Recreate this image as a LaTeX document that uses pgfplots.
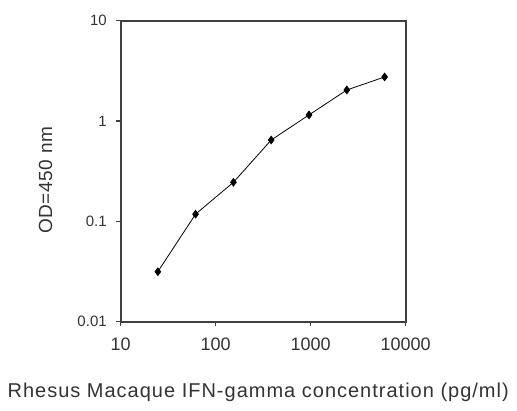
\documentclass[border=0pt]{standalone}
\usepackage{fontspec}
\setmainfont{Liberation Sans}
\usepackage{pgfplots}
\pgfplotsset{compat=1.18}

\begin{document}
\begin{tikzpicture}
    \path[use as bounding box] (0,0) rectangle (517bp,411bp);
    \begin{axis}[
            name=ax,
            at={(120.7bp,89.3bp)},
            anchor=south west,
            scale only axis,
            width=285bp, height=301bp,
            xmode=log, ymode=log,
            xmin=10, xmax=10000,
            ymin=0.01, ymax=10,
            xtick={10,100,1000,10000},
            xticklabels={10,100,1000,10000},
            ytick={0.01,0.1,1,10},
            yticklabels={0.01,0.1,1,10},
            minor tick num=0,
            minor tick style={draw=none},
            tick align=outside,
            xtick pos=bottom, ytick pos=left,
            major tick length=4.5bp,
            axis line style={line width=2bp, draw=black!75},
            tick style={line width=1.2bp, draw=black!75},
            /pgf/number format/assume math mode=true,
            xticklabel style={font=\fontsize{18bp}{20bp}\selectfont, text=black!80, yshift=-8bp},
            yticklabel style={font=\fontsize{15bp}{17bp}\selectfont, text=black!80, xshift=-6bp},
            xlabel={Rhesus Macaque IFN-gamma concentration (pg/ml)},
            ylabel={OD=450 nm},
            xlabel style={font=\fontsize{20bp}{22bp}\selectfont\addfontfeatures{LetterSpace=5}, text=black!80,
                at={(axis description cs:0.5,0)}, anchor=center, yshift=-71bp, xshift=-5bp},
            ylabel style={font=\fontsize{19bp}{21bp}\selectfont\addfontfeatures{LetterSpace=3}, text=black!80,
                at={(axis description cs:0,0.5)}, anchor=center, xshift=-9bp, yshift=75bp},
        ]
        \addplot[
            color=black,
            line width=0.8bp,
            mark=diamond*,
            mark size=3.8bp,
        ]
        coordinates {
                (24.6,0.0315)(61.4,0.118)(153.6,0.245)(384,0.647)(960,1.15)(2400,2.04)(6000,2.75)
            };
    \end{axis}
    % top and right sides of the frame
    \draw[line width=2bp, color=black!75]
        (ax.north west) -- (ax.north east) -- (ax.south east);
\end{tikzpicture}
\end{document}
